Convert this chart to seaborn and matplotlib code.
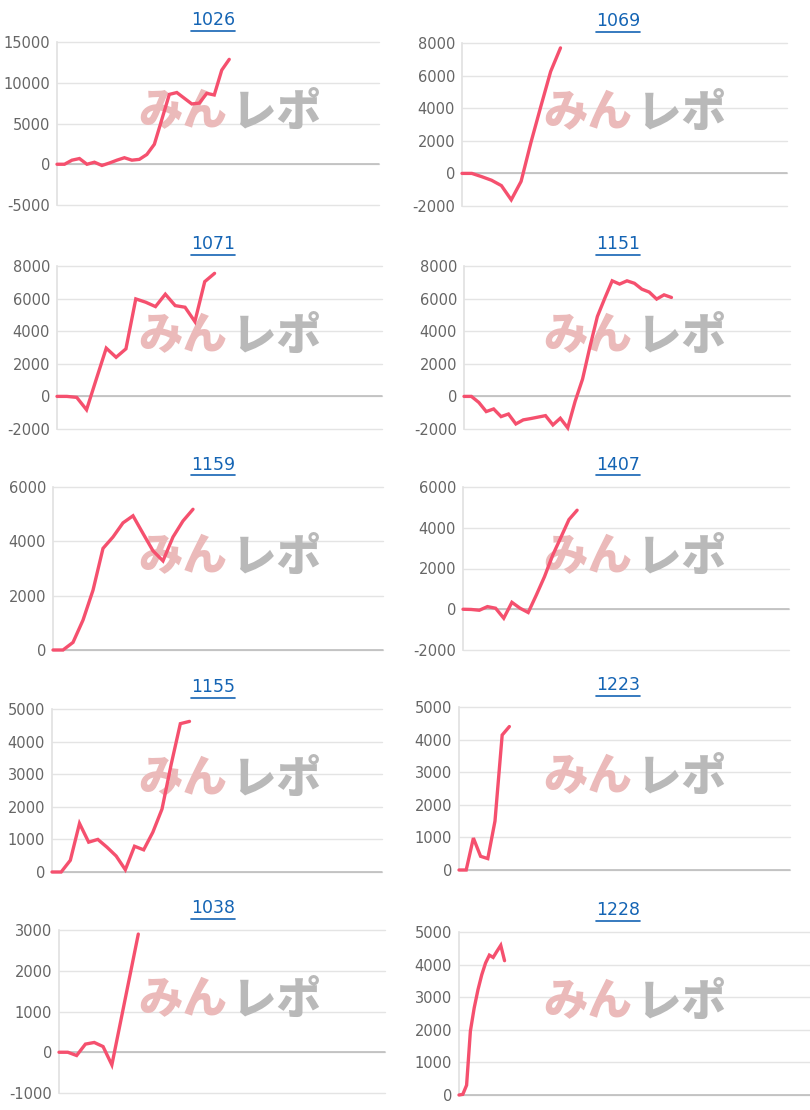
import numpy as np
import matplotlib.pyplot as plt
import seaborn as sns
from matplotlib.lines import Line2D

# machine numbers shown above each small chart
titles = ["1026", "1069", "1071", "1151", "1159", "1407", "1155", "1223", "1038", "1228"]

# cumulative values
v1026 = [0, 0, 500, 700, 0, 250, -150, 150, 500, 800, 500, 600, 1200, 2450, 5500,
         8570, 8800, 8100, 7400, 7500, 8700, 8500, 11550, 12870]
v1069 = [0, 0, -200, -420, -750, -1620, -490, 1900, 4100, 6250, 7700]
v1071 = [0, 0, -60, -820, 1080, 2960, 2400, 2920, 5980, 5780, 5510, 6270, 5570,
         5470, 4590, 7040, 7550]
v1151 = [0, 0, -370, -930, -770, -1240, -1080, -1690, -1440, -1360, -1270, -1180,
         -1750, -1340, -1930, -300, 1060, 3050, 4900, 6020, 7090, 6890, 7090, 6940,
         6580, 6400, 5970, 6230, 6070]
v1159 = [0, 0, 280, 1100, 2200, 3740, 4160, 4680, 4940, 4290, 3650, 3280, 4160, 4750, 5180]
v1407 = [0, -10, -50, 130, 50, -440, 340, 50, -160, 700, 1600, 2650, 3520, 4400, 4860]
v1155 = [0, 0, 360, 1490, 915, 1000, 760, 490, 70, 790, 680, 1220, 1930, 3300, 4550, 4620]
v1223 = [0, 0, 980, 420, 350, 1500, 4140, 4400]
v1038 = [0, 0, -80, 200, 240, 140, -310, 760, 1830, 2900]
v1228 = [0, 20, 300, 1960, 2670, 3230, 3690, 4050, 4290, 4220, 4410, 4590, 4120]

series = [v1026, v1069, v1071, v1151, v1159, v1407, v1155, v1223, v1038, v1228]

# number of category slots on each x axis
x_slots = [43, 33, 33, 44, 33, 40, 36, 46, 37, 93]

# y axis: min, max, tick step
y_axes = [(-5000, 15000, 5000), (-2000, 8000, 2000), (-2000, 8000, 2000),
          (-2000, 8000, 2000), (0, 6000, 2000), (-2000, 6000, 2000),
          (0, 5000, 1000), (0, 5000, 1000), (-1000, 3000, 1000), (0, 5000, 1000)]

# layout in pixels
W, H = 810, 1110
plot_left = [57, 462, 57, 464, 53, 463, 52, 459, 59, 459]
plot_right = [379, 787, 382, 790, 383, 789, 382, 790, 385, 812]
plot_top = [42, 43, 266, 266, 487, 487, 709, 707, 930, 932]
plot_h = 163

line_color = "#f5506e"

sns.set_theme(style="white")
plt.rcParams["font.family"] = ["DejaVu Sans"]
plt.rcParams["axes.unicode_minus"] = False

fig = plt.figure(figsize=(W / 100, H / 100), dpi=100)

title_texts = []
for i, (name, vals) in enumerate(zip(titles, series)):
    row, col = divmod(i, 2)
    left, right, top = plot_left[i], plot_right[i], plot_top[i]
    ax = fig.add_axes([left / W, 1 - (top + plot_h) / H, (right - left) / W, plot_h / H])

    x = np.arange(len(vals))
    sns.lineplot(x=x, y=vals, ax=ax, color=line_color, linewidth=2.4, zorder=3)
    ax.lines[-1].set_solid_joinstyle("miter")
    ax.lines[-1].set_clip_on(False)

    lo, hi, step = y_axes[i]
    ax.set_ylim(lo, hi)
    ax.set_yticks(np.arange(lo, hi + 1, step))
    ax.set_xlim(0, x_slots[i])
    ax.set_xticks([])
    ax.set_xlabel("")
    ax.set_ylabel("")
    ax.grid(axis="y", color="#e4e4e4", linewidth=1)
    for gl in ax.get_ygridlines():
        gl.set_clip_on(False)
    ax.axhline(0, color="#b9b9b9", linewidth=1.1, zorder=2, clip_on=False)
    for s in ["top", "right", "bottom"]:
        ax.spines[s].set_visible(False)
    ax.spines["left"].set_color("#e2e2e2")
    ax.tick_params(axis="y", length=0, pad=5, labelsize=10.5, labelcolor="#666666")

    # watermark behind the line
    cx = col * 405 + 228
    cy = top + 70
    ax.text((cx - 1) / W, 1 - cy / H, "みん", transform=fig.transFigure, ha="right",
            va="center", fontsize=32, fontweight="heavy", color="#ebbaba",
            family=["Noto Sans CJK JP"], zorder=1, clip_on=False)
    ax.text((cx + 4) / W, 1 - cy / H, "レポ", transform=fig.transFigure, ha="left",
            va="center", fontsize=32, fontweight="heavy", color="#b9b9b9",
            family=["Noto Sans CJK JP"], zorder=1, clip_on=False)

    t = fig.text((col * 405 + 213) / W, 1 - (top - 22) / H, name, ha="center",
                 va="center", fontsize=12.5, color="#1464b4")
    title_texts.append(t)

# underline the titles like links
fig.canvas.draw()
renderer = fig.canvas.get_renderer()
for t in title_texts:
    bb = t.get_window_extent(renderer).transformed(fig.transFigure.inverted())
    y = bb.y0 - 1.5 / H
    fig.add_artist(Line2D([bb.x0, bb.x1], [y, y], transform=fig.transFigure,
                          color="#1464b4", linewidth=1.2))

fig.savefig("out.png", dpi=100)
